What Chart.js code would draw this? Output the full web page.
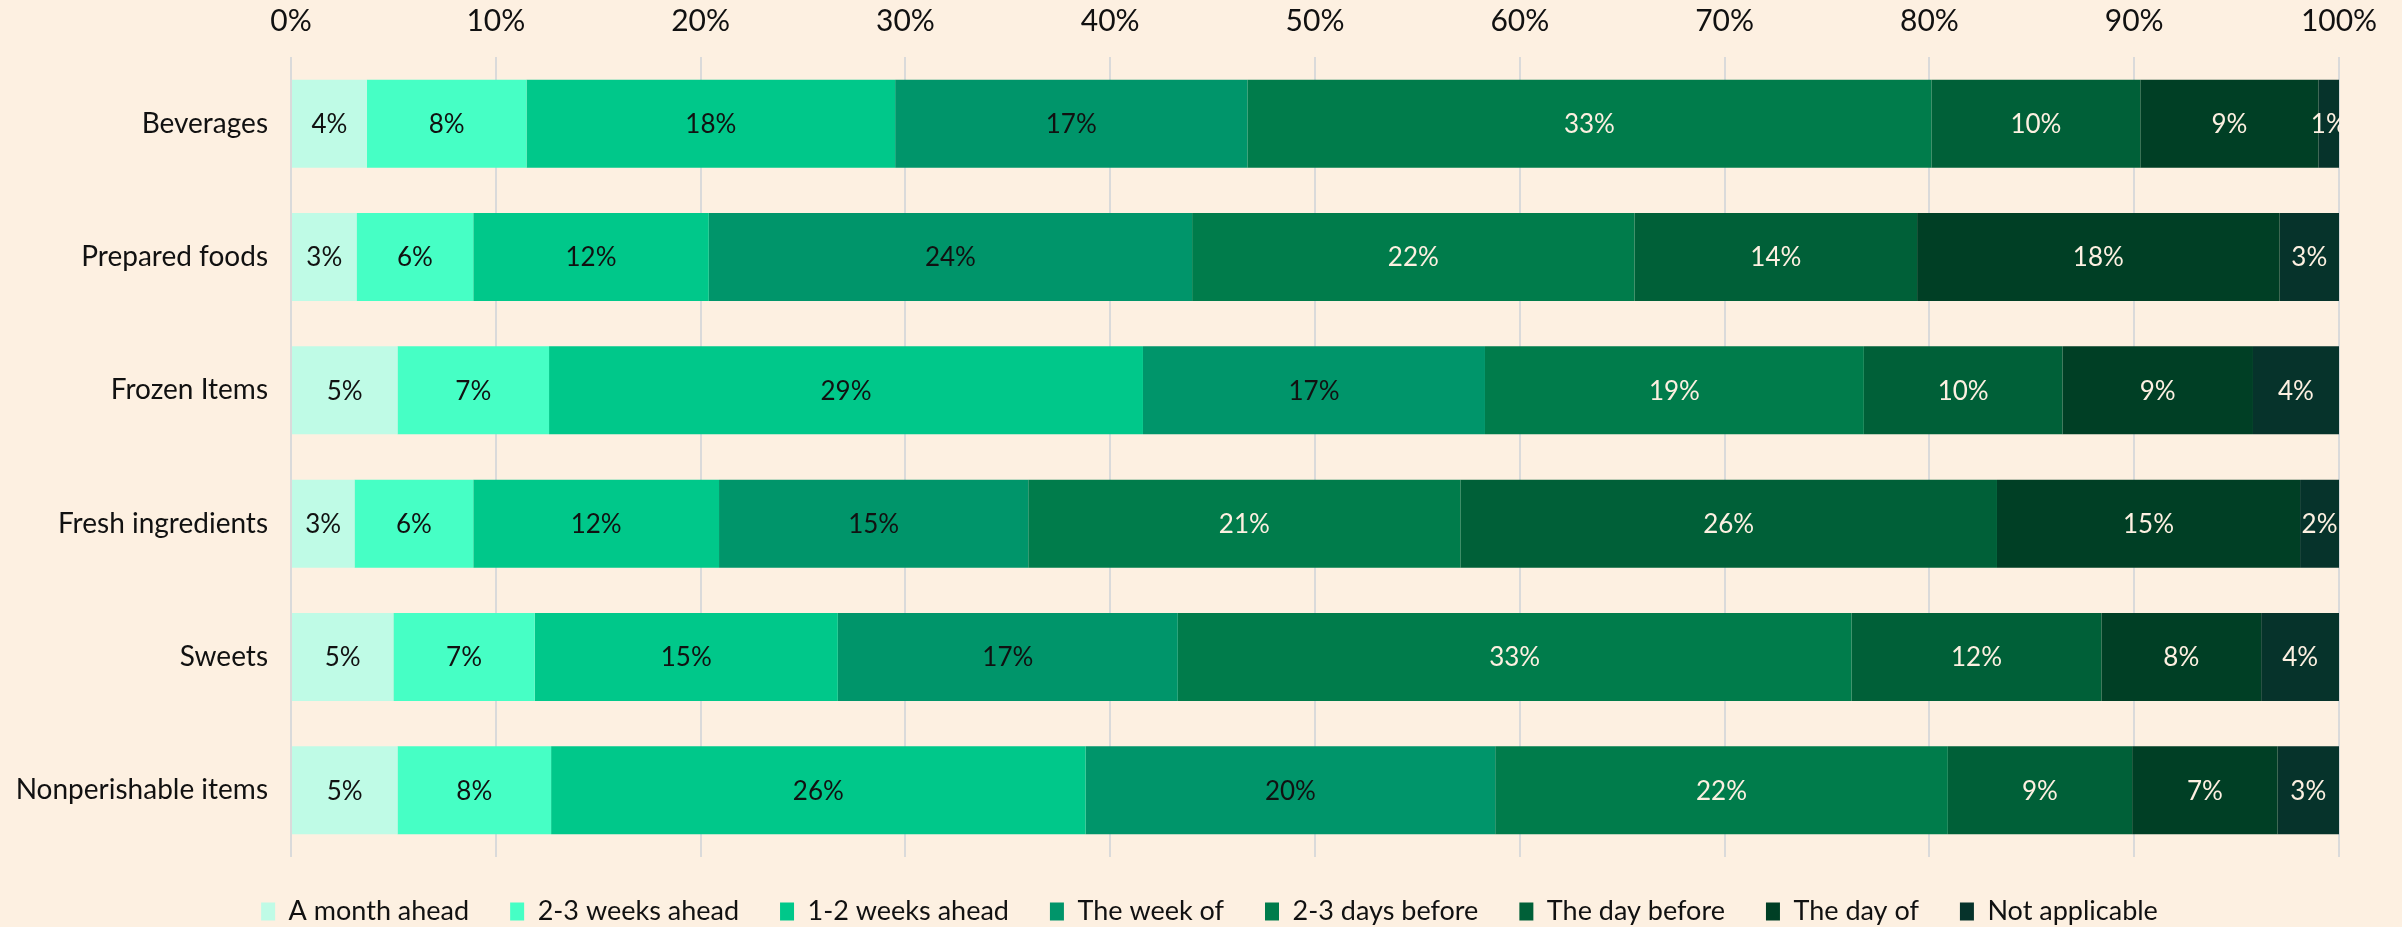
<!DOCTYPE html>
<html>
<head>
<meta charset="utf-8">
<script src="https://cdn.jsdelivr.net/npm/chart.js@4/dist/chart.umd.min.js"></script>
<style>
  html, body { margin: 0; padding: 0; background: #fdf0e1; }
  #wrap { width: 2402px; height: 927px; }
</style>
</head>
<body>
<div id="wrap"><canvas id="stats" width="2402" height="927"></canvas></div>
<script>
const categories = ["Beverages", "Prepared foods", "Frozen Items", "Fresh ingredients", "Sweets", "Nonperishable items"];
const seriesNames = ["A month ahead", "2-3 weeks ahead", "1-2 weeks ahead", "The week of", "2-3 days before", "The day before", "The day of", "Not applicable"];
const monthAhead   = [3.7, 3.2, 5.2, 3.1, 5.0, 5.2];
const twoThreeWeeks = [7.8, 5.7, 7.4, 5.8, 6.9, 7.5];
const oneTwoWeeks  = [18.0, 11.5, 29.0, 12.0, 14.8, 26.1];
const weekOf       = [17.2, 23.6, 16.7, 15.1, 16.6, 20.0];
const twoThreeDays = [33.4, 21.6, 18.5, 21.1, 32.9, 22.1];
const dayBefore    = [10.2, 13.8, 9.7, 26.2, 12.2, 9.0];
const dayOf        = [8.7, 17.7, 9.3, 14.8, 7.8, 7.1];
const notApplicable = [1.0, 2.9, 4.2, 1.9, 3.8, 3.0];
const tickValues = [0, 10, 20, 30, 40, 50, 60, 70, 80, 90, 100];

const seriesValues = [monthAhead, twoThreeWeeks, oneTwoWeeks, weekOf, twoThreeDays, dayBefore, dayOf, notApplicable];
const colors = ["#bffbe6", "#46ffc5", "#00c88a", "#00956a", "#007c4b", "#006038", "#003f25", "#06332b"];
const labelColors = ["#111111", "#111111", "#111111", "#111111", "#fdf0e1", "#fdf0e1", "#fdf0e1", "#fdf0e1"];
const FONT = "Lato, 'Noto Sans', sans-serif";

// percent labels in the middle of each segment
const segmentLabels = {
  id: "segmentLabels",
  afterDatasetsDraw(chart) {
    const ctx = chart.ctx;
    ctx.save();
    ctx.font = "26px " + FONT;
    ctx.textAlign = "center";
    ctx.textBaseline = "middle";
    chart.data.datasets.forEach((ds, i) => {
      const meta = chart.getDatasetMeta(i);
      if (meta.hidden) return;
      meta.data.forEach((bar, j) => {
        const { x, base, y } = bar.getProps(["x", "base", "y"], true);
        ctx.fillStyle = labelColors[i];
        ctx.fillText(Math.round(ds.data[j]) + "%", (x + base) / 2, y + 1);
      });
    });
    ctx.restore();
  },
};

// the original legend sits a little right of the plot's centre
const legendShift = {
  id: "legendShift",
  afterLayout(chart) {
    if (!chart.legend) return;
    chart.legend.left += 40;
    chart.legend.right += 40;
  },
};

const ctx = document.getElementById("stats").getContext("2d");
new Chart(ctx, {
  type: "bar",
  data: {
    labels: categories,
    datasets: seriesNames.map((name, i) => ({
      label: name,
      data: seriesValues[i],
      backgroundColor: colors[i],
      borderWidth: 0,
      barPercentage: 0.66,
      categoryPercentage: 1.0,
    })),
  },
  options: {
    indexAxis: "y",
    responsive: false,
    devicePixelRatio: 1,
    animation: false,
    layout: { padding: { left: 0, right: 63, top: 0, bottom: -8 } },
    scales: {
      x: {
        position: "top",
        stacked: true,
        min: 0,
        max: 100,
        afterBuildTicks: (scale) => { scale.ticks = tickValues.map((v) => ({ value: v })); },
        afterFit: (scale) => { scale.height = 57; },
        grid: { color: "#dadada", lineWidth: 2, drawTicks: false },
        border: { display: false },
        ticks: {
          callback: (v) => v + "%",
          color: "#111111",
          padding: 18,
          font: { family: FONT, size: 30 },
        },
      },
      y: {
        stacked: true,
        afterFit: (scale) => { scale.width = 291; },
        grid: { display: false, drawTicks: false },
        border: { display: false },
        ticks: {
          color: "#111111",
          padding: 23,
          font: { family: FONT, size: 28 },
        },
      },
    },
    plugins: {
      tooltip: { enabled: false },
      legend: {
        position: "bottom",
        labels: {
          boxWidth: 14,
          boxHeight: 18,
          padding: 41,
          color: "#111111",
          font: { family: FONT, size: 27 },
        },
      },
    },
  },
  plugins: [segmentLabels, legendShift],
});
</script>
</body>
</html>
